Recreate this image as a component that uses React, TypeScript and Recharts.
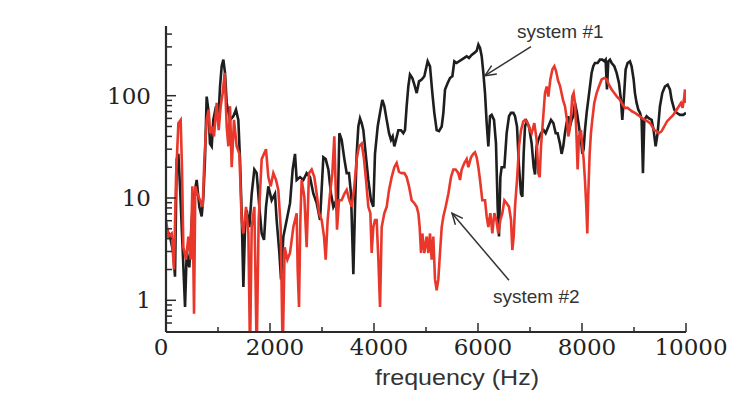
import { LineChart, Line, XAxis, YAxis, ReferenceLine } from "recharts"

// frequency response, system #1 (black trace)
const sys1Freq = [
  0, 77, 141, 173, 206, 238, 269, 321, 366, 398, 449, 494, 526, 590, 641, 686, 718, 750, 782, 814,
  846, 879, 910, 962, 1007, 1039, 1071, 1103, 1135, 1167, 1231, 1295, 1346, 1391, 1423, 1455, 1488, 1520, 1552, 1603,
  1648, 1699, 1744, 1795, 1840, 1885, 1923, 1968, 2032, 2096, 2128, 2180, 2212, 2257, 2321, 2385, 2436, 2481, 2513, 2577,
  2641, 2705, 2769, 2834, 2898, 2962, 3026, 3071, 3122, 3173, 3218, 3250, 3301, 3334, 3378, 3430, 3475, 3519, 3558, 3603,
  3635, 3667, 3699, 3731, 3763, 3795, 3840, 3891, 3942, 3987, 4019, 4071, 4116, 4160, 4199, 4244, 4289, 4327, 4359, 4391,
  4423, 4468, 4519, 4564, 4596, 4628, 4660, 4692, 4737, 4776, 4821, 4866, 4917, 4968, 5032, 5077, 5122, 5160, 5205, 5250,
  5302, 5334, 5366, 5417, 5462, 5507, 5545, 5590, 5635, 5686, 5737, 5782, 5827, 5878, 5930, 5975, 6007, 6039, 6071, 6103,
  6135, 6167, 6199, 6231, 6263, 6308, 6346, 6378, 6404, 6430, 6455, 6507, 6551, 6596, 6635, 6680, 6712, 6750, 6789, 6827,
  6853, 6878, 6904, 6936, 6981, 7032, 7071, 7096, 7128, 7160, 7212, 7263, 7301, 7353, 7404, 7449, 7494, 7531, 7576, 7608,
  7640, 7672, 7704, 7736, 7768, 7801, 7833, 7865, 7903, 7942, 7980, 8006, 8031, 8057, 8089, 8121, 8153, 8185, 8217, 8249,
  8300, 8345, 8390, 8429, 8454, 8480, 8506, 8538, 8570, 8621, 8666, 8711, 8749, 8775, 8807, 8839, 8877, 8922, 8954, 8993,
  9018, 9050, 9083, 9115, 9147, 9172, 9198, 9243, 9288, 9339, 9377, 9416, 9454, 9499, 9544, 9595, 9647, 9691, 9724, 9775,
  9820, 9884, 9948, 10000,
]
const sys1Amp = [
  5.2, 4.2, 2.9, 1.7, 24, 27, 13, 3.1, 0.86, 2.9, 2.1, 6.1, 9.5, 15, 8.2, 6.6, 10.3, 24, 98, 73,
  34, 32, 58, 79, 58, 123, 194, 225, 167, 85, 58, 63, 73, 58, 24, 7.1, 1.35, 5.2, 7.6, 5.2,
  11, 19, 17.5, 8.2, 4.5, 3.9, 8.2, 13, 9.5, 11, 6.1, 2.9, 1.6, 4.2, 6.1, 8.9, 19, 27, 15, 16,
  15, 17.5, 16, 11, 8.9, 6.1, 25, 24, 19, 11, 8.2, 8.9, 7.1, 43, 37, 24, 17.5, 17.5, 11, 1.8,
  8.2, 27, 50, 60, 54, 46, 27, 15, 9.5, 8.2, 27, 50, 68, 91, 79, 58, 43, 37, 40, 32,
  37, 46, 46, 43, 46, 79, 123, 161, 149, 128, 106, 138, 144, 155, 217, 194, 106, 68, 46, 45,
  50, 68, 115, 133, 149, 155, 217, 209, 217, 225, 234, 243, 234, 250, 262, 275, 316, 293, 243, 167,
  106, 54, 32, 63, 65, 58, 34, 8.2, 4.2, 16, 20, 20, 43, 63, 68, 68, 63, 50, 20, 11,
  10.3, 27, 50, 56, 50, 34, 20, 17, 32, 37, 43, 46, 43, 50, 58, 54, 43, 43, 34, 27,
  32, 43, 54, 63, 50, 58, 63, 85, 68, 50, 37, 27, 30, 46, 68, 91, 123, 167, 194, 209,
  209, 225, 225, 217, 225, 115, 217, 225, 209, 194, 167, 133, 91, 58, 98, 180, 209, 217, 194, 144,
  106, 85, 73, 68, 58, 17.5, 58, 63, 60, 58, 46, 32, 43, 79, 106, 123, 128, 115, 91, 73,
  68, 65, 65, 68,
]

// frequency response, system #2 (red trace)
const sys2Freq = [
  0, 45, 109, 154, 193, 238, 282, 308, 334, 385, 430, 475, 507, 539, 564, 603, 654, 706, 738, 782,
  821, 846, 885, 923, 975, 1013, 1052, 1090, 1129, 1167, 1199, 1231, 1263, 1308, 1359, 1411, 1455, 1488, 1539, 1584,
  1616, 1648, 1699, 1744, 1782, 1840, 1885, 1923, 1968, 2013, 2064, 2116, 2160, 2205, 2244, 2282, 2334, 2385, 2449, 2513,
  2532, 2558, 2584, 2609, 2660, 2705, 2750, 2801, 2853, 2898, 2943, 2994, 3039, 3071, 3109, 3154, 3199, 3237, 3263, 3289,
  3327, 3378, 3430, 3475, 3526, 3571, 3622, 3667, 3712, 3763, 3808, 3846, 3891, 3930, 3955, 3987, 4019, 4051, 4084, 4116,
  4148, 4199, 4244, 4289, 4340, 4391, 4436, 4481, 4532, 4583, 4628, 4673, 4724, 4776, 4821, 4853, 4878, 4904, 4930, 4968,
  5013, 5045, 5077, 5109, 5141, 5173, 5205, 5237, 5269, 5302, 5334, 5378, 5430, 5481, 5526, 5571, 5622, 5654, 5686, 5737,
  5782, 5814, 5866, 5910, 5942, 5975, 6007, 6039, 6083, 6135, 6167, 6199, 6237, 6276, 6314, 6353, 6391, 6430, 6468, 6507,
  6551, 6596, 6635, 6660, 6686, 6712, 6750, 6789, 6827, 6872, 6904, 6955, 7000, 7032, 7083, 7128, 7160, 7186, 7212, 7250,
  7288, 7321, 7353, 7391, 7430, 7468, 7500, 7540, 7577, 7634, 7672, 7711, 7736, 7762, 7788, 7813, 7839, 7865, 7890, 7916,
  7942, 7980, 8006, 8031, 8057, 8083, 8102, 8121, 8147, 8172, 8198, 8236, 8281, 8326, 8377, 8429, 8474, 8518, 8570, 8621,
  8672, 8730, 8781, 8826, 8877, 8922, 8967, 9018, 9070, 9115, 9159, 9211, 9262, 9307, 9352, 9390, 9435, 9480, 9531, 9582,
  9634, 9691, 9756, 9820, 9864, 9903, 9935, 9967, 9980, 10000,
]
const sys2Amp = [
  6.1, 4.2, 4.5, 2.0, 16, 54, 58, 19, 3.3, 2.5, 4.2, 2.5, 13, 0.74, 13, 11, 9.5, 8.2, 24, 58,
  73, 43, 50, 40, 85, 46, 79, 106, 167, 50, 32, 79, 20, 58, 32, 27, 6.1, 4.5, 8.2, 4.5,
  0.3, 5.2, 8.2, 0.3, 6.1, 24, 27, 30, 16, 13, 17.5, 15, 12, 5.2, 0.3, 3.3, 2.5, 2.9, 5.2, 7.1,
  2.0, 0.86, 6.1, 15, 10.3, 3.3, 17.5, 19, 16, 11, 7.1, 6.1, 4.2, 2.5, 6.1, 11, 17.5, 40, 13, 4.9,
  9.5, 9.5, 11, 12, 9.5, 8.2, 13, 24, 32, 34, 24, 15, 8.2, 7.1, 2.9, 5.2, 6.1, 6.1, 2.5, 0.86,
  5.2, 7.1, 8.2, 12, 16, 20, 22, 18, 17.5, 17.5, 16, 13, 9.5, 8.9, 8.2, 7.1, 5.2, 2.9, 4.5, 2.9,
  4.2, 2.9, 4.5, 2.5, 4.2, 1.6, 1.25, 1.6, 2.9, 5.2, 6.6, 8.2, 11, 16, 19, 19, 17.5, 15, 19, 22,
  24, 20, 25, 27, 28, 25, 20, 15, 9.5, 9.5, 6.6, 5.2, 7.1, 4.5, 7.1, 6.1, 4.5, 6.1, 7.1, 9.5,
  8.9, 8.2, 6.1, 3.1, 4.2, 8.2, 15, 32, 46, 56, 58, 54, 46, 43, 54, 37, 17.5, 16, 32, 58,
  106, 123, 98, 144, 180, 194, 175, 140, 125, 91, 79, 58, 40, 46, 63, 98, 106, 85, 46, 19,
  40, 46, 32, 24, 15, 8.2, 4.5, 11, 27, 43, 58, 85, 106, 123, 144, 149, 144, 128, 115, 106,
  98, 91, 82, 76, 76, 73, 70, 68, 65, 63, 60, 58, 56, 54, 50, 46, 45, 43, 45, 50,
  56, 60, 65, 73, 79, 85, 76, 98, 115, 85,
]

const xTicks = [0, 1000, 2000, 3000, 4000, 5000, 6000, 7000, 8000, 9000, 10000]
const xLabels = [0, 2000, 4000, 6000, 8000, 10000]
const yTicks = [
  0.6, 0.7, 0.8, 0.9, 1, 2, 3, 4, 5, 6, 7, 8, 9, 10, 20, 30, 40, 50, 60, 70, 80, 90, 100, 200, 300, 400,
]
const yLabels = [1, 10, 100]

const sys1 = sys1Freq.map((f, i) => ({ f, amp: sys1Amp[i] }))
const sys2 = sys2Freq.map((f, i) => ({ f, amp: sys2Amp[i] }))

const AXIS = "#2a2a2a"
const BLACK = "#1e1e1e"
const RED = "#e9382b"
const SERIF = "'DejaVu Serif', serif"
const SANS = "'Liberation Sans', Arial, sans-serif"

function YTick({ x, y, payload }: any) {
  const v = payload.value
  const major = yLabels.includes(v)
  return (
    <g>
      <line x1={x} y1={y} x2={x + (major ? 10 : 6)} y2={y} stroke={AXIS} strokeWidth={1.5} />
      {major && (
        <text x={x - 15} y={y + 8} textAnchor="end" fontFamily={SERIF} fontSize={23} fill="#222">
          {v}
        </text>
      )}
    </g>
  )
}

function XTick({ x, y, payload }: any) {
  const v = payload.value
  const major = xLabels.includes(v)
  return (
    <g>
      <line x1={x} y1={y} x2={x} y2={y - (major ? 9 : 5)} stroke={AXIS} strokeWidth={1.5} />
      {major && (
        <text x={x + (v === 0 ? -5 : 5)} y={y + 23} textAnchor="middle" fontFamily={SERIF} fontSize={23} fill="#222">
          {v}
        </text>
      )}
    </g>
  )
}

// arrow from the caption (x1,y1) to the curve (x2,y2)
function Pointer({ x1, y1, x2, y2, caption, tdx, tdy }: any) {
  const ang = Math.atan2(y2 - y1, x2 - x1)
  const len = 12
  const spread = 0.42
  const h1x = x2 - len * Math.cos(ang - spread)
  const h1y = y2 - len * Math.sin(ang - spread)
  const h2x = x2 - len * Math.cos(ang + spread)
  const h2y = y2 - len * Math.sin(ang + spread)
  return (
    <g>
      <line x1={x1} y1={y1} x2={x2} y2={y2} stroke="#333" strokeWidth={1.5} />
      <polyline points={`${h1x},${h1y} ${x2},${y2} ${h2x},${h2y}`} fill="none" stroke="#333" strokeWidth={1.5} />
      <text x={x1 + tdx} y={y1 + tdy} fontFamily={SANS} fontSize={19} fill="#333">
        {caption}
      </text>
    </g>
  )
}

export default function App() {
  return (
    <div style={{ position: "absolute", left: 0, top: 0, width: 733, height: 397, background: "#fff" }}>
      <LineChart width={733} height={397} margin={{ top: 26, right: 47, bottom: 0, left: 0 }}>
        <XAxis
          dataKey="f"
          type="number"
          domain={[0, 10000]}
          allowDataOverflow
          ticks={xTicks}
          interval={0}
          tickSize={0}
          tickMargin={0}
          tickLine={false}
          tick={<XTick />}
          height={65}
          axisLine={{ stroke: AXIS, strokeWidth: 2 }}
          label={{
            content: ({ viewBox }: any) => (
              <text
                x={viewBox.x + viewBox.width / 2 + 31}
                y={viewBox.y + 53}
                textAnchor="middle"
                fontFamily={SANS}
                fontSize={22}
                textLength={164}
                lengthAdjust="spacingAndGlyphs"
                fill="#333"
              >
                frequency (Hz)
              </text>
            ),
          }}
        />
        <YAxis
          scale="log"
          domain={[0.49, 480]}
          allowDataOverflow
          ticks={yTicks}
          interval={0}
          tickSize={0}
          tickMargin={0}
          tickLine={false}
          tick={<YTick />}
          width={166}
          axisLine={{ stroke: AXIS, strokeWidth: 2.2 }}
        />
        <Line data={sys1} dataKey="amp" type="linear" stroke={BLACK} strokeWidth={2.6} dot={false} activeDot={false} isAnimationActive={false} />
        <Line data={sys2} dataKey="amp" type="linear" stroke={RED} strokeWidth={2.6} dot={false} activeDot={false} isAnimationActive={false} />
        <ReferenceLine
          segment={[{ x: 7019, y: 302 }, { x: 6134, y: 157 }]}
          shape={(p: any) => <Pointer {...p} caption="system #1" tdx={-14} tdy={-9} />}
        />
        <ReferenceLine
          segment={[{ x: 6596, y: 1.57 }, { x: 5500, y: 7.1 }]}
          shape={(p: any) => <Pointer {...p} caption="system #2" tdx={-16} tdy={23} />}
        />
      </LineChart>
    </div>
  )
}
